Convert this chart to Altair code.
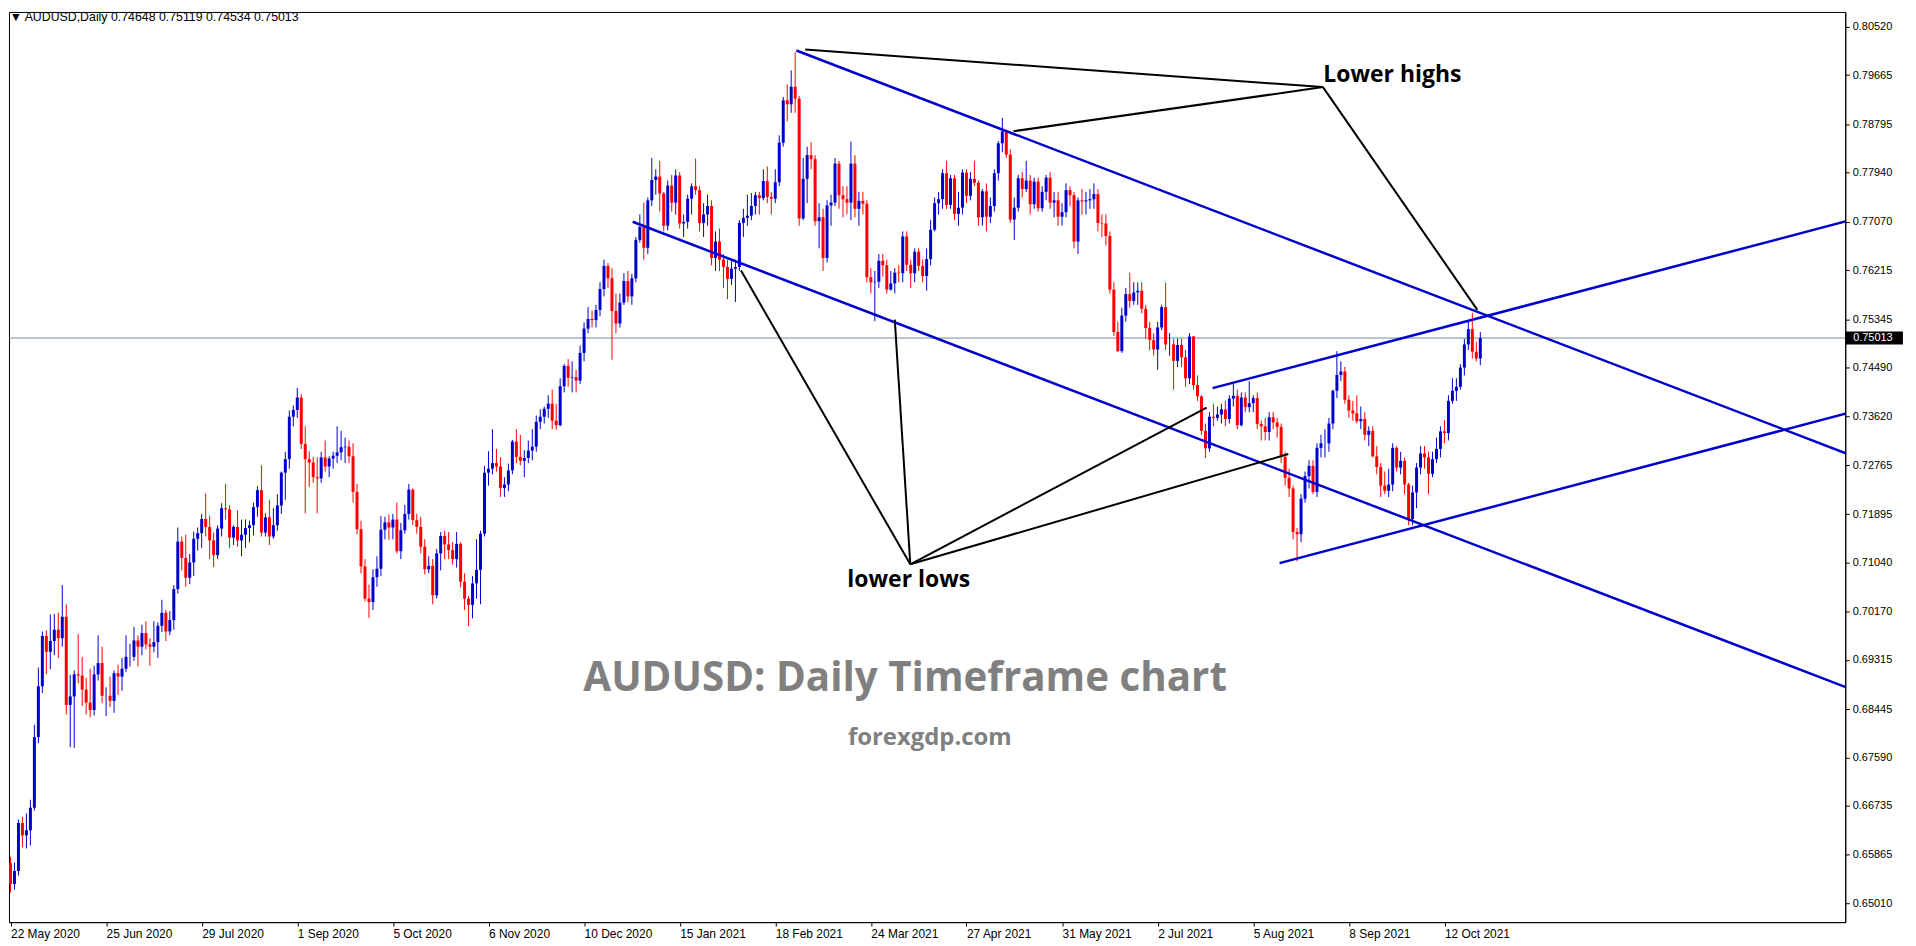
import altair as alt
import pandas as pd

# ---------------- data (prices in 1/10000) ----------------
OPEN0 = 6572
CLOSE = [
    6535, 6558, 6643, 6621, 6630, 6670,
    6795, 6885, 6974, 6946, 6965,
    6985, 6970, 7008, 6852, 6867,
    6906, 6904, 6879, 6856, 6843,
    6906, 6926, 6868, 6868, 6859,
    6908, 6902, 6916, 6937, 6937,
    6966, 6955, 6979, 6959, 6955,
    6963, 6992, 7015, 6982, 7002,
    7057, 7141, 7112, 7077, 7104,
    7146, 7156, 7181, 7167, 7143,
    7117, 7164, 7200, 7198, 7148,
    7167, 7143, 7153, 7165, 7170,
    7202, 7232, 7157, 7184, 7150,
    7170, 7205, 7263, 7287, 7362,
    7374, 7396, 7314, 7287, 7281,
    7255, 7253, 7290, 7274, 7288,
    7293, 7299, 7308, 7309, 7292,
    7229, 7163, 7097, 7040, 7034,
    7078, 7093, 7162, 7175, 7166,
    7180, 7124, 7161, 7190, 7233,
    7179, 7167, 7132, 7092, 7098,
    7046, 7120, 7151, 7136, 7126,
    7110, 7137, 7070, 7040, 7029,
    7067, 7091, 7155, 7263, 7270,
    7280, 7274, 7236, 7242, 7267,
    7318, 7291, 7284, 7289, 7302,
    7309, 7353, 7362, 7376, 7385,
    7355, 7347, 7416, 7452, 7431,
    7432, 7426, 7475, 7518, 7535,
    7533, 7551, 7588, 7629, 7607,
    7549, 7527, 7564, 7602,
    7575, 7607, 7675, 7698,
    7661, 7745, 7781, 7787, 7757,
    7700, 7771, 7741, 7789, 7704,
    7707, 7748, 7770, 7763, 7705,
    7720, 7735, 7643, 7672, 7640,
    7627, 7606, 7624, 7627, 7705,
    7714, 7718, 7735, 7754, 7749,
    7779, 7751, 7748, 7777, 7847,
    7922, 7915, 7946, 7925, 7713,
    7783, 7825, 7818, 7708, 7715,
    7643, 7736, 7741, 7810, 7754,
    7747, 7741, 7810, 7730, 7744,
    7739, 7609, 7600, 7601, 7638,
    7630, 7587, 7598, 7617, 7616,
    7681, 7631, 7616, 7654, 7629,
    7611, 7641, 7693, 7740, 7747,
    7793, 7737, 7784, 7721, 7732,
    7794, 7753, 7783, 7776, 7715,
    7761, 7716, 7735, 7793, 7846,
    7867, 7826, 7711, 7732, 7784,
    7765, 7780, 7738, 7778, 7731,
    7760, 7785, 7741, 7745, 7716,
    7724, 7763, 7754, 7672, 7745,
    7743, 7745, 7747, 7756, 7705,
    7704, 7682, 7587, 7512, 7478,
    7541, 7579, 7567, 7582, 7585,
    7553, 7519, 7498, 7481, 7520,
    7556, 7490, 7490, 7461, 7489,
    7467, 7430, 7504, 7418, 7398,
    7337, 7306, 7362, 7360, 7366,
    7375, 7358, 7394, 7399, 7347,
    7396, 7379, 7386, 7395, 7349,
    7345, 7335, 7361, 7352, 7344,
    7291, 7254, 7235, 7158, 7154,
    7217, 7257, 7275, 7229, 7307,
    7315, 7315, 7350, 7408, 7436,
    7442, 7392, 7373, 7368, 7354,
    7358, 7330, 7337, 7292, 7273,
    7240, 7231, 7242, 7307, 7272,
    7284, 7242, 7181, 7228, 7272,
    7297, 7290, 7261, 7287, 7305,
    7336, 7333, 7390, 7408, 7415,
    7449, 7490, 7517, 7477, 7465, 7501,
]
HIGH = [
    6583, 6573, 6649, 6654, 6660, 6684,
    6817, 6918, 6982, 6984, 7012,
    7013, 7015, 7064, 7030, 6905,
    6913, 6977, 6937, 6900, 6916,
    6921, 6975, 6955, 6883, 6902,
    6913, 6923, 6935, 6975, 6960,
    6990, 6975, 6994, 7000, 6970,
    7000, 6998, 7038, 7020, 7018,
    7064, 7166, 7150, 7153, 7119,
    7159, 7166, 7190, 7226, 7187,
    7157, 7170, 7209, 7243, 7205,
    7170, 7196, 7180, 7180, 7178,
    7210, 7239, 7276, 7191, 7215,
    7200, 7225, 7265, 7300, 7373,
    7382, 7413, 7402, 7345, 7301,
    7291, 7290, 7300, 7320, 7292,
    7300, 7345, 7337, 7325, 7320,
    7315, 7243, 7178, 7110, 7065,
    7092, 7115, 7186, 7185, 7189,
    7190, 7210, 7174, 7206, 7243,
    7235, 7190, 7185, 7145, 7115,
    7110, 7128, 7158, 7160, 7158,
    7140, 7158, 7140, 7085, 7045,
    7080, 7145, 7160, 7275, 7301,
    7340, 7305, 7290, 7255, 7279,
    7321, 7340, 7330, 7303, 7320,
    7340, 7364, 7375, 7380, 7400,
    7410, 7385, 7430, 7455, 7464,
    7460, 7445, 7488, 7529, 7556,
    7550, 7560, 7600, 7640, 7634,
    7625, 7580, 7580, 7616,
    7620, 7615, 7680, 7720,
    7741, 7750, 7820, 7800, 7815,
    7760, 7780, 7790, 7800, 7795,
    7720, 7755, 7775, 7819, 7770,
    7740, 7755, 7745, 7690, 7695,
    7650, 7640, 7640, 7640, 7710,
    7730, 7755, 7758, 7760, 7760,
    7800, 7805, 7760, 7800, 7860,
    7928, 7950, 7975, 8007, 7930,
    7820, 7840, 7848, 7825, 7740,
    7730, 7745, 7755, 7820, 7815,
    7770, 7770, 7849, 7825, 7760,
    7760, 7745, 7625, 7620, 7650,
    7650, 7640, 7620, 7625, 7630,
    7690, 7690, 7640, 7660, 7660,
    7640, 7660, 7710, 7750, 7760,
    7800, 7815, 7790, 7790, 7760,
    7800, 7800, 7795, 7815, 7780,
    7765, 7775, 7750, 7800, 7850,
    7891, 7870, 7835, 7750, 7790,
    7795, 7815, 7790, 7785, 7785,
    7770, 7790, 7795, 7760, 7760,
    7740, 7775, 7770, 7760, 7750,
    7765, 7760, 7765, 7775, 7765,
    7720, 7720, 7690, 7600, 7530,
    7555, 7590, 7617, 7600, 7600,
    7600, 7560, 7530, 7510, 7530,
    7560, 7599, 7510, 7500, 7500,
    7500, 7480, 7510, 7505, 7435,
    7400, 7350, 7370, 7385, 7380,
    7385, 7390, 7400, 7420, 7410,
    7405, 7405, 7425, 7400, 7405,
    7355, 7360, 7370, 7370, 7360,
    7350, 7300, 7270, 7240, 7165,
    7225, 7265, 7285, 7285, 7315,
    7330, 7340, 7360, 7410, 7478,
    7460, 7450, 7400, 7390, 7400,
    7380, 7370, 7345, 7345, 7310,
    7280, 7265, 7270, 7315, 7310,
    7300, 7290, 7245, 7240, 7280,
    7310, 7310, 7300, 7300, 7325,
    7345, 7356, 7400, 7430, 7430,
    7455, 7500, 7530, 7546, 7495, 7512,
]
LOW = [
    6520, 6525, 6550, 6600, 6598, 6603,
    6665, 6784, 6873, 6906, 6915,
    6940, 6935, 6955, 6835, 6777,
    6776, 6890, 6850, 6835, 6830,
    6833, 6895, 6855, 6832, 6848,
    6838, 6870, 6877, 6910, 6920,
    6930, 6920, 6940, 6950, 6921,
    6945, 6935, 6981, 6965, 6975,
    6985, 7049, 7090, 7061, 7066,
    7080, 7125, 7130, 7150, 7110,
    7096, 7110, 7150, 7180, 7130,
    7135, 7132, 7115, 7130, 7140,
    7152, 7185, 7150, 7150, 7135,
    7146, 7160, 7190, 7215, 7270,
    7345, 7360, 7305, 7191, 7238,
    7245, 7191, 7245, 7265, 7255,
    7270, 7280, 7285, 7280, 7280,
    7210, 7154, 7085, 7035, 7006,
    7020, 7061, 7080, 7145, 7144,
    7145, 7120, 7110, 7155, 7180,
    7170, 7155, 7120, 7083, 7085,
    7030, 7040, 7090, 7110, 7110,
    7100, 7095, 7060, 7020, 6991,
    7005, 7040, 7030, 7150, 7240,
    7260, 7265, 7220, 7220, 7230,
    7260, 7280, 7276, 7255, 7280,
    7285, 7300, 7340, 7350, 7360,
    7340, 7339, 7345, 7405, 7415,
    7405, 7405, 7420, 7460, 7510,
    7520, 7520, 7540, 7575, 7590,
    7463, 7510, 7520, 7560,
    7565, 7560, 7600, 7670,
    7640, 7650, 7735, 7755, 7725,
    7690, 7692, 7725, 7720, 7695,
    7680, 7695, 7720, 7755, 7690,
    7680, 7700, 7630, 7620, 7620,
    7590, 7570, 7595, 7565, 7620,
    7680, 7700, 7710, 7720, 7720,
    7745, 7740, 7720, 7740, 7770,
    7840, 7885, 7900, 7900, 7700,
    7710, 7740, 7800, 7700, 7660,
    7620, 7635, 7700, 7735, 7730,
    7715, 7720, 7710, 7715, 7700,
    7720, 7600, 7580, 7531, 7590,
    7610, 7580, 7585, 7580, 7600,
    7600, 7620, 7590, 7600, 7620,
    7600, 7585, 7630, 7690, 7720,
    7730, 7730, 7730, 7710, 7700,
    7720, 7740, 7745, 7770, 7700,
    7700, 7690, 7705, 7725, 7780,
    7830, 7820, 7705, 7675, 7725,
    7750, 7760, 7720, 7730, 7725,
    7725, 7745, 7730, 7715, 7700,
    7700, 7715, 7735, 7660, 7650,
    7720, 7720, 7730, 7730, 7690,
    7680, 7665, 7580, 7505, 7477,
    7475, 7530, 7555, 7560, 7560,
    7545, 7500, 7480, 7470, 7445,
    7515, 7480, 7470, 7410, 7450,
    7450, 7415, 7420, 7410, 7390,
    7330, 7289, 7300, 7345, 7355,
    7350, 7345, 7350, 7380, 7340,
    7345, 7370, 7370, 7370, 7340,
    7320, 7320, 7320, 7340, 7325,
    7280, 7240, 7220, 7145, 7106,
    7140, 7210, 7235, 7225, 7220,
    7290, 7290, 7300, 7340, 7395,
    7425, 7385, 7360, 7355, 7350,
    7340, 7320, 7310, 7290, 7260,
    7220, 7225, 7220, 7230, 7265,
    7260, 7225, 7170, 7170, 7200,
    7260, 7270, 7225, 7255, 7280,
    7290, 7315, 7320, 7385, 7390,
    7410, 7435, 7480, 7465, 7460, 7453,
]

DATE_LABELS = ["22 May 2020", "25 Jun 2020", "29 Jul 2020", "1 Sep 2020", "5 Oct 2020",
               "6 Nov 2020", "10 Dec 2020", "15 Jan 2021", "18 Feb 2021", "24 Mar 2021",
               "27 Apr 2021", "31 May 2021", "2 Jul 2021", "5 Aug 2021", "8 Sep 2021",
               "12 Oct 2021"]
BARS_PER_LABEL = 24
Y_TICKS = [0.80520, 0.79665, 0.78795, 0.77940, 0.77070, 0.76215, 0.75345, 0.74490,
           0.73620, 0.72765, 0.71895, 0.71040, 0.70170, 0.69315, 0.68445, 0.67590,
           0.66735, 0.65865, 0.65010]
HEADER = "\u25BC AUDUSD,Daily  0.74648 0.75119 0.74534 0.75013"
LAST_PRICE = 0.75013

# trend lines: (bar index, price) -> (bar index, price)
BLUE_LINES = [
    (197.3, 0.80102, 462.0, 0.72940),
    (301.8, 0.74126, 462.0, 0.77101),
    (156.2, 0.77071, 462.0, 0.68800),
    (318.6, 0.71029, 462.0, 0.73700),
]
LH_POINT = (329.5, 0.79454)
LH_TARGETS = [(199.5, 0.80120), (251.8, 0.78673), (368.25, 0.75511)]
LL_POINT = (225.9, 0.71008)
LL_TARGETS = [(183.4, 0.76206), (222.0, 0.75339), (300.3, 0.73781), (320.8, 0.72959)]

# ---------------- build tables ----------------
n = min(len(CLOSE), len(HIGH), len(LOW))
opens = [OPEN0] + CLOSE[:n - 1]
rows = []
for k in range(n):
    o, c = opens[k] / 1e4, CLOSE[k] / 1e4
    h = max(HIGH[k] / 1e4, o, c)
    l = min(LOW[k] / 1e4, o, c)
    rows.append({"i": k, "o": o, "c": c, "h": h, "l": l,
                 "dir": "up" if c >= o else "down"})
candles = pd.DataFrame(rows)

seg_blue = pd.DataFrame([{"x": a, "y": b, "x2": c, "y2": d} for a, b, c, d in BLUE_LINES])
seg_black = pd.DataFrame(
    [{"x": LH_POINT[0], "y": LH_POINT[1], "x2": t[0], "y2": t[1]} for t in LH_TARGETS] +
    [{"x": LL_POINT[0], "y": LL_POINT[1], "x2": t[0], "y2": t[1]} for t in LL_TARGETS])

# exactly 4 px per bar (1844 px / 461 bars), bars centred on half pixels
XS = alt.Scale(domain=[-0.375, 460.625], nice=False, zero=False)
YS = alt.Scale(domain=[0.64675, 0.80784], nice=False, zero=False)

label_js = "[" + ",".join("'" + s + "'" for s in DATE_LABELS) + "][round(datum.value/24)]"
XAX = alt.Axis(values=[BARS_PER_LABEL * k for k in range(len(DATE_LABELS))],
               labelExpr=label_js, labelAlign="left", labelFont="Liberation Sans",
               labelFontSize=12, labelColor="black", tickColor="black",
               domainColor="black", tickSize=4, labelPadding=2, grid=False,
               title=None, labelFlush=False, labelOverlap=False)
YAX = alt.Axis(orient="right", values=Y_TICKS, format=".5f", labelFont="Liberation Sans",
               labelFontSize=11, labelColor="black", tickColor="black",
               domainColor="black", tickSize=4, labelPadding=3, grid=False,
               title=None, labelFlush=False, labelOverlap=False)


def X(field):
    return alt.X(field, type="quantitative", scale=XS, axis=XAX)


def Y(field):
    return alt.Y(field, type="quantitative", scale=YS, axis=YAX)


color = alt.Color("dir:N", scale=alt.Scale(domain=["up", "down"], range=["#0000CD", "#FF0000"]),
                  legend=None)

price_line = alt.Chart(pd.DataFrame({"p": [LAST_PRICE]})).mark_rule(
    color="#778899", strokeWidth=1).encode(y=Y("p"))

wicks = alt.Chart(candles).mark_rule(strokeWidth=1).encode(
    x=X("i"), y=Y("l"), y2="h", color=color)
bodies = alt.Chart(candles).mark_rule(strokeWidth=3, strokeCap="butt").encode(
    x=X("i"), y=Y("o"), y2="c", color=color)

blue = alt.Chart(seg_blue).mark_rule(color="#0000CC", strokeWidth=2.5, clip=True).encode(
    x=X("x"), y=Y("y"), x2="x2", y2="y2")
black = alt.Chart(seg_black).mark_rule(color="#000000", strokeWidth=2).encode(
    x=X("x"), y=Y("y"), x2="x2", y2="y2")

ann = pd.DataFrame([
    {"t": "Lower highs", "x": 329.6, "y": 0.79674},
    {"t": "lower lows", "x": 210.1, "y": 0.70721},
])
ann_text = alt.Chart(ann).mark_text(align="left", baseline="middle", font="Open Sans",
                                    fontWeight="bold", fontSize=23, color="black").encode(
    x=X("x"), y=Y("y"), text="t:N")

title_df = pd.DataFrame([{"t": "AUDUSD: Daily Timeframe chart", "x": 224.6, "y": 0.68976}])
title_text = alt.Chart(title_df).mark_text(align="center", baseline="middle", font="Open Sans",
                                           fontWeight="bold", fontSize=40.5, color="#808080").encode(
    x=X("x"), y=Y("y"), text="t:N")
site_df = pd.DataFrame([{"t": "forexgdp.com", "x": 230.8, "y": 0.67936}])
site_text = alt.Chart(site_df).mark_text(align="center", baseline="middle", font="Open Sans",
                                         fontWeight="bold", fontSize=24, color="#808080").encode(
    x=X("x"), y=Y("y"), text="t:N")

head_df = pd.DataFrame([{"t": HEADER, "x": -0.2, "y": 0.80696}])
head_text = alt.Chart(head_df).mark_text(align="left", baseline="middle", font="Liberation Sans",
                                         fontSize=12.4, color="black").encode(
    x=X("x"), y=Y("y"), text="t:N")

box_df = pd.DataFrame([{"x": 460.625, "x2": 475.1, "y": LAST_PRICE + 0.00115,
                        "y2": LAST_PRICE - 0.00115, "tx": 462.6, "ty": LAST_PRICE,
                        "t": f"{LAST_PRICE:.5f}"}])
box = alt.Chart(box_df).mark_rect(color="black").encode(
    x=X("x"), x2="x2", y=Y("y"), y2="y2")
box_text = alt.Chart(box_df).mark_text(align="left", baseline="middle", font="Liberation Sans",
                                       fontSize=11, color="white").encode(
    x=X("tx"), y=Y("ty"), text="t:N")

chart = alt.layer(price_line, wicks, bodies, blue, black, ann_text, title_text, site_text,
                  head_text, box, box_text).properties(
    width=1844, height=914,
    padding={"left": 0, "top": 0, "right": 5, "bottom": 5},
    background="white",
).configure_view(stroke="black", strokeWidth=1)

chart.save("out.html", embed_options={"renderer": "svg", "actions": False})
